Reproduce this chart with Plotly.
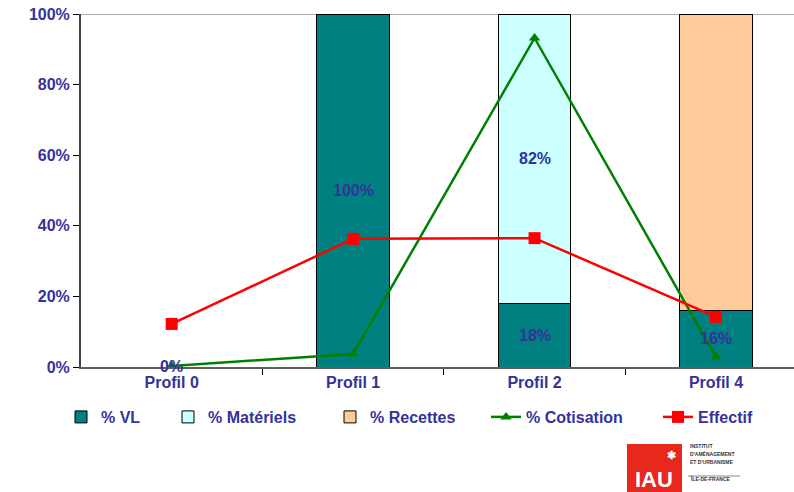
import plotly.graph_objects as go

categories = ["Profil 0", "Profil 1", "Profil 2", "Profil 4"]
pct_vl = [0, 100, 18, 16]
pct_materiels = [0, 0, 82, 0]
pct_recettes = [0, 0, 0, 84]
pct_cotisation = [0.3, 3.7, 93.2, 2.8]
effectif = [12.2, 36.3, 36.5, 14.2]
ytick_vals = [0, 20, 40, 60, 80, 100]
ytick_text = ["0%", "20%", "40%", "60%", "80%", "100%"]

TXT = "#333399"
FONT = "Liberation Sans, Arial, sans-serif"

W, H = 794, 492
L, T = 81, 14
PB = 367  # plot bottom in px
B = H - PB
PR = W
x_range = [-0.5, 3.43]

fig = go.Figure()
xs = list(range(len(categories)))
bar_line = dict(color="#000000", width=1)
fig.add_trace(go.Bar(x=xs, y=pct_vl, name="% VL", marker=dict(color="#008080", line=bar_line),
                     width=0.4, legend="legend"))
fig.add_trace(go.Bar(x=xs, y=pct_materiels, name="% Matériels", marker=dict(color="#CCFFFF", line=bar_line),
                     width=0.4, legend="legend2"))
fig.add_trace(go.Bar(x=xs, y=pct_recettes, name="% Recettes", marker=dict(color="#FFCC99", line=bar_line),
                     width=0.4, legend="legend3"))
fig.add_trace(go.Scatter(x=xs, y=pct_cotisation, name="% Cotisation", mode="lines+markers",
                         line=dict(color="#008000", width=2.5),
                         marker=dict(symbol="triangle-up", size=10, color="#008000"),
                         legend="legend4"))
fig.add_trace(go.Scatter(x=xs, y=effectif, name="Effectif", mode="lines+markers",
                         line=dict(color="#FF0000", width=2.5),
                         marker=dict(symbol="square", size=12, color="#FF0000"),
                         legend="legend5"))

annots = []
lab_font = dict(family=FONT, size=16, color=TXT, weight="bold")
for i, (v, m) in enumerate(zip(pct_vl, pct_materiels)):
    if v > 0 or i == 0:
        annots.append(dict(x=i, y=v / 2, xref="x", yref="y", text=f"{v}%",
                           showarrow=False, font=lab_font, yshift=1 if v == 0 else 0))
    if m > 0:
        annots.append(dict(x=i, y=v + m / 2, xref="x", yref="y", text=f"{m}%",
                           showarrow=False, font=lab_font))

def px_to_paper(px, py):
    return (px - L) / (PR - L), (PB - py) / (PB - T)

lx0, ly0 = px_to_paper(627, 444)
lx1, ly1 = px_to_paper(682, 500)
sx0, sy = px_to_paper(688, 476)
sx1, _ = px_to_paper(740, 476)
shapes = [
    dict(type="line", xref="paper", yref="y", x0=0, x1=1, y0=100, y1=100,
         line=dict(color="#B0B0B0", width=2), layer="below"),
    dict(type="rect", xref="paper", yref="paper", x0=lx0, x1=lx1, y0=ly1, y1=ly0,
         fillcolor="#E8281C", line=dict(width=0)),
    dict(type="line", xref="paper", yref="paper", x0=sx0, x1=sx1, y0=sy, y1=sy,
         line=dict(color="#888888", width=1)),
]

for txt, px, py, sz in [("IAU", 654, 479, 22), ("✱", 671, 455, 11)]:
    xx, yy = px_to_paper(px, py)
    annots.append(dict(x=xx, y=yy, xref="paper", yref="paper", text=txt, showarrow=False,
                       xanchor="center", yanchor="middle",
                       font=dict(family=FONT, size=sz, color="white", weight="bold")))
for txt, py in [("INSTITUT", 451), ("D'AMÉNAGEMENT", 459), ("ET D'URBANISME", 467), ("ÎLE-DE-FRANCE", 484)]:
    xx, yy = px_to_paper(688, py)
    annots.append(dict(x=xx, y=yy, xref="paper", yref="paper", text=txt, showarrow=False,
                       xanchor="left", font=dict(family=FONT, size=5, color="#333333", weight="bold")))

leg_font = dict(family=FONT, size=16, color=TXT, weight="bold")
_, leg_y = px_to_paper(0, 417)
leg_x_px = [61, 168, 330, 486, 658]
layout_legends = {}
for k, lx in enumerate(leg_x_px):
    key = "legend" if k == 0 else f"legend{k+1}"
    xx, _ = px_to_paper(lx, 0)
    layout_legends[key] = dict(x=xx, y=leg_y, xanchor="left", yanchor="middle",
                               orientation="h", font=leg_font, itemwidth=30,
                               bgcolor="rgba(0,0,0,0)", tracegroupgap=0)

tick_font = dict(family=FONT, size=16, color=TXT, weight="bold")
fig.update_layout(
    width=W, height=H,
    margin=dict(l=L, r=0, t=T, b=B, pad=0, autoexpand=False),
    paper_bgcolor="white", plot_bgcolor="white",
    barmode="stack",
    showlegend=True,
    font=dict(family=FONT, size=16, color=TXT),
    xaxis=dict(range=x_range, tickmode="array", tickvals=xs, ticktext=categories,
               showline=True, linecolor="#606060", linewidth=2,
               showgrid=False, ticks="", zeroline=False, tickfont=tick_font),
    yaxis=dict(range=[0, 100], tickmode="array", tickvals=ytick_vals, ticktext=ytick_text,
               showline=True, linecolor="#404040", linewidth=2,
               ticks="outside", ticklen=6, tickcolor="#000000", tickwidth=1,
               showgrid=False, zeroline=False, tickfont=tick_font,
               ticklabeloverflow="allow"),
    annotations=annots,
    shapes=shapes,
    **layout_legends,
)

fig.update_xaxes(minor=dict(tickmode="array", tickvals=[0.5, 1.5, 2.5], ticks="outside",
                            ticklen=6, tickcolor="#000000", tickwidth=1))

fig.write_html("out.html", config={"displayModeBar": False},
               post_script="document.body.style.margin='0';document.body.style.overflow='hidden';")
